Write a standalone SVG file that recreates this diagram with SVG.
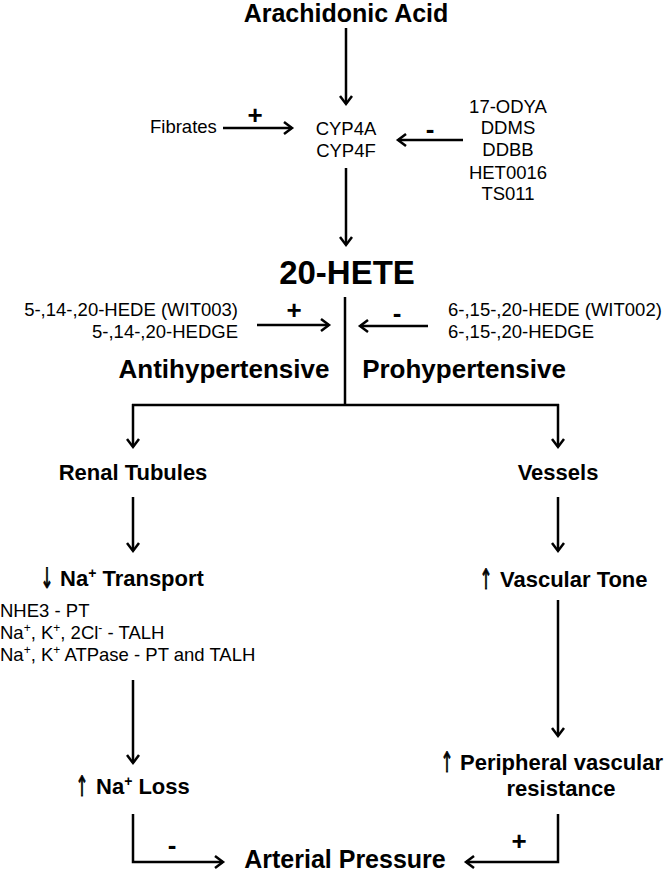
<svg xmlns="http://www.w3.org/2000/svg" width="665" height="872" viewBox="0 0 665 872">
<defs>
<style>
text{font-family:"Liberation Sans",Arial,sans-serif;fill:#000}
.r{font-size:18.5px}
.t1{font-size:25px;font-weight:bold}
.t3{font-size:26px;font-weight:bold}
.t2{font-size:22px;font-weight:bold}
.sg{font-size:26px;font-weight:bold}
.ar{font-family:"DejaVu Sans",sans-serif;font-size:28px;font-weight:normal;text-anchor:middle;stroke:#000;stroke-width:1}
.c{stroke:#000;stroke-width:2.5;fill:none}
</style>
<marker id="ah" markerUnits="userSpaceOnUse" markerWidth="16" markerHeight="16" refX="10" refY="8" orient="auto">
<path d="M2,2 L10,8 L2,14" fill="none" stroke="#000" stroke-width="2.5"/>
</marker>
</defs>
<rect width="665" height="872" fill="#fff"/>

<g id="connectors">
<line class="c" x1="346" y1="28" x2="346" y2="104" marker-end="url(#ah)"/>
<line class="c" x1="223" y1="128" x2="292" y2="128" marker-end="url(#ah)"/>
<line class="c" x1="463" y1="140" x2="398" y2="140" marker-end="url(#ah)"/>
<line class="c" x1="346" y1="168" x2="346" y2="245" marker-end="url(#ah)"/>
<line class="c" x1="257" y1="325" x2="329" y2="325" marker-end="url(#ah)"/>
<line class="c" x1="428" y1="326" x2="360" y2="326" marker-end="url(#ah)"/>
<line class="c" x1="345" y1="297" x2="345" y2="405"/>
<line class="c" x1="132" y1="405" x2="559" y2="405"/>
<line class="c" x1="133" y1="404" x2="133" y2="447" marker-end="url(#ah)"/>
<line class="c" x1="558" y1="404" x2="558" y2="447" marker-end="url(#ah)"/>
<line class="c" x1="133" y1="497" x2="133" y2="551" marker-end="url(#ah)"/>
<line class="c" x1="558" y1="497" x2="558" y2="551" marker-end="url(#ah)"/>
<line class="c" x1="133" y1="680" x2="133" y2="763" marker-end="url(#ah)"/>
<line class="c" x1="558" y1="600" x2="558" y2="736" marker-end="url(#ah)"/>
<polyline class="c" points="133,814 133,862 223,862" marker-end="url(#ah)"/>
<polyline class="c" points="558,814 558,862 466,862" marker-end="url(#ah)"/>
</g>

<g id="arachidonic"><text class="t1" x="346" y="22" text-anchor="middle">Arachidonic Acid</text></g>
<g id="fibrates"><text class="r" x="150" y="133">Fibrates</text></g>
<g id="plus1"><text class="sg" x="255" y="124" text-anchor="middle">+</text></g>
<g id="cyp"><text class="r" x="346" y="135" text-anchor="middle">CYP4A</text><text class="r" x="346" y="157" text-anchor="middle">CYP4F</text></g>
<g id="minus1"><text class="sg" x="430" y="138" text-anchor="middle">-</text></g>
<g id="inhibitors">
<text class="r" x="508" y="113" text-anchor="middle">17-ODYA</text>
<text class="r" x="508" y="134" text-anchor="middle">DDMS</text>
<text class="r" x="508" y="156" text-anchor="middle">DDBB</text>
<text class="r" x="508" y="179" text-anchor="middle">HET0016</text>
<text class="r" x="508" y="200" text-anchor="middle">TS011</text>
</g>
<g id="hete"><text x="347" y="284" text-anchor="middle" font-size="33" font-weight="bold">20-HETE</text></g>
<g id="agonists">
<text class="r" x="238" y="316" text-anchor="end">5-,14-,20-HEDE (WIT003)</text>
<text class="r" x="238" y="338" text-anchor="end">5-,14-,20-HEDGE</text>
</g>
<g id="plus2"><text class="sg" x="294" y="319" text-anchor="middle">+</text></g>
<g id="minus2"><text class="sg" x="397" y="322" text-anchor="middle">-</text></g>
<g id="antagonists">
<text class="r" x="448" y="316">6-,15-,20-HEDE (WIT002)</text>
<text class="r" x="448" y="338">6-,15-,20-HEDGE</text>
</g>
<g id="anti"><text class="t3" x="224" y="378" text-anchor="middle">Antihypertensive</text></g>
<g id="pro"><text class="t3" x="464" y="378" text-anchor="middle">Prohypertensive</text></g>
<g id="renal"><text class="t2" x="133" y="480" text-anchor="middle">Renal Tubules</text></g>
<g id="vessels"><text class="t2" x="558" y="480" text-anchor="middle">Vessels</text></g>
<g id="natransport"><text class="ar" transform="translate(47,588) scale(0.55,1)">↓</text><text class="t2" x="60" y="586">Na<tspan font-size="14" baseline-shift="super">+</tspan> Transport</text></g>
<g id="transporters">
<text class="r" x="0" y="617">NHE3 - PT</text>
<text class="r" x="0" y="639">Na<tspan font-size="12" baseline-shift="super">+</tspan>, K<tspan font-size="12" baseline-shift="super">+</tspan>, 2Cl<tspan font-size="12" baseline-shift="super">-</tspan> - TALH</text>
<text class="r" x="0" y="661">Na<tspan font-size="12" baseline-shift="super">+</tspan>, K<tspan font-size="12" baseline-shift="super">+</tspan> ATPase - PT and TALH</text>
</g>
<g id="tone"><text class="ar" transform="translate(486,589) scale(0.55,1)">↑</text><text class="t2" x="500" y="587">Vascular Tone</text></g>
<g id="naloss"><text class="ar" transform="translate(82,796) scale(0.55,1)">↑</text><text class="t2" x="96" y="794">Na<tspan font-size="14" baseline-shift="super">+</tspan> Loss</text></g>
<g id="pvr">
<text class="ar" transform="translate(447,772) scale(0.55,1)">↑</text>
<text class="t2" x="460" y="770">Peripheral vascular</text>
<text class="t2" x="561" y="796" text-anchor="middle">resistance</text>
</g>
<g id="minus3"><text class="sg" x="172" y="854" text-anchor="middle">-</text></g>
<g id="plus3"><text class="sg" x="519" y="850" text-anchor="middle">+</text></g>
<g id="arterial"><text class="t1" x="345" y="868" text-anchor="middle">Arterial Pressure</text></g>
</svg>
